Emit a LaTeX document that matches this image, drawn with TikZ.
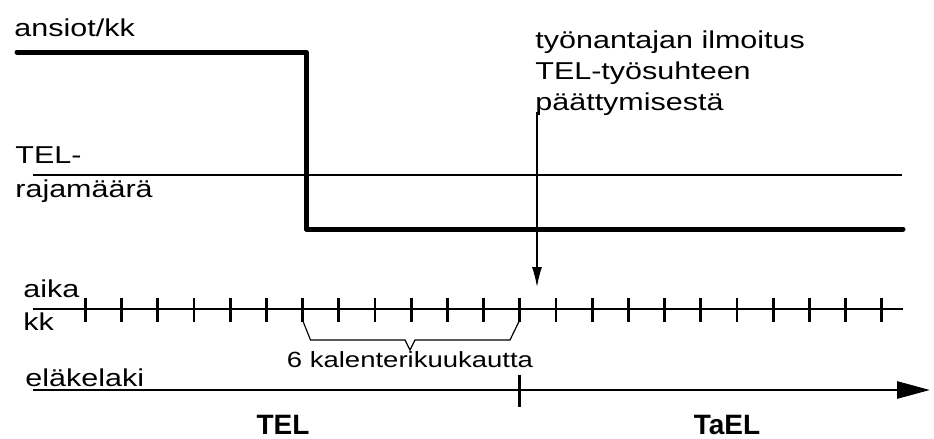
\documentclass[tikz,border=0pt]{standalone}
\usepackage{fontspec}
\setmainfont{Liberation Sans}
\newfontfamily\widefont[FakeStretch=1.25]{Liberation Sans}
\usetikzlibrary{positioning,arrows.meta}

\begin{document}
\begin{tikzpicture}[>=latex, x=0.5pt, y=-0.5pt]

    %
    % Styles for lines, ticks and labels
    %
    \tikzstyle{caption} = [inner sep=0pt, anchor=base west, text=black,
                           font={\widefont\fontsize{12.2}{15.5}\selectfont}]
    \tikzstyle{spanLabel} = [caption, anchor=base, font={\widefont\fontsize{11}{13}\selectfont}]
    \tikzstyle{lawLabel} = [inner sep=0pt, font={\bfseries\fontsize{14}{17}\selectfont}];
    \tikzstyle{earnings} = [black, line width=2.5pt, line cap=round, line join=round];
    \tikzstyle{limit} = [black, line width=1.3pt];
    \tikzstyle{axis} = [black, line width=1.4pt];
    \tikzstyle{tickMark} = [black, line width=1.4pt];
    \tikzstyle{bracket} = [black, line width=0.6pt, line join=miter];

    \useasboundingbox (0,0) rectangle (934,439);

    %
    % Earnings and the TEL limit
    %
    \node[caption, name=ansiot] at (14,36) {ansiot/kk};
    \node[caption, name=limitTop] at (15,163) {TEL-};
    \node[caption, name=limitBottom] at (15,198) {rajamäärä};

    \coordinate (earnStart) at (17,52);
    \coordinate (earnDrop) at (306,52);
    \coordinate (earnLow) at (306,229);
    \coordinate (earnEnd) at (903,229);
    \draw[earnings] (earnStart) -- (earnDrop) -- (earnLow) -- (earnEnd);

    \coordinate (limitStart) at (33,175);
    \coordinate (limitEnd) at (902,175);
    \draw[limit] (limitStart) -- (limitEnd);

    %
    % Month axis
    %
    \node[caption, name=aika] at (23,297) {aika};
    \node[caption, name=kk] at (23,330) {kk};

    \coordinate (timeStart) at (33,309);
    \coordinate (timeEnd) at (903,309);
    \draw[axis] (timeStart) -- (timeEnd);
    \foreach \i in {0,...,22} {
      \coordinate (tick\i) at (85.3+36.2*\i,309);
      \draw[tickMark] ([yshift=5.5pt]tick\i) -- ([yshift=-6.5pt]tick\i);
    }

    \draw[bracket] ([yshift=-5.5pt]tick6) -- ++(8,20) -- (405,340) -- ++(5,10)
      -- ++(5,-10) -- (510,340) -- ([yshift=-5.5pt]tick12);
    \node[spanLabel, name=months] at (410,367) {6 kalenterikuukautta};

    %
    % Employer notice
    %
    \node[caption, name=notice, anchor=north west, align=left] at (535,30)
      {työnantajan ilmoitus\\TEL-työsuhteen\\päättymisestä};
    \coordinate (noticeTip) at (537,287);
    \draw[black, line width=0.6pt, -{Latex[length=10pt,width=5pt]}]
      (notice.south west -| noticeTip) ++(0,-4) -- (noticeTip);

    %
    % Pension law axis
    %
    \node[caption, name=lawName] at (25,386) {eläkelaki};
    \coordinate (lawStart) at (33,390);
    \coordinate (lawEnd) at (930,390);
    \draw[axis, -{Triangle[length=16.5pt,width=8.5pt]}] (lawStart) -- (lawEnd);
    \coordinate (lawSplit) at (tick12 |- lawStart);
    \draw[tickMark] ([yshift=7.5pt]lawSplit) -- ([yshift=-8.5pt]lawSplit);

    \node[lawLabel, name=tel] at (283,425) {TEL};
    \node[lawLabel, name=tael] at (727,425) {TaEL};
  \end{tikzpicture}
\end{document}
